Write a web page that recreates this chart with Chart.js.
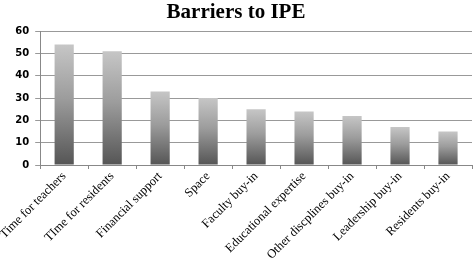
<!DOCTYPE html>
<html>
<head>
<meta charset="utf-8">
<script src="https://cdn.jsdelivr.net/npm/chart.js@4.4.0/dist/chart.umd.min.js"></script>
<style>
  html, body { margin: 0; padding: 0; background: #fff; }
  #wrap { width: 473px; height: 259px; }
</style>
</head>
<body>
<div id="wrap"><canvas id="chart"></canvas></div>
<script>
const categories = ['Time for teachers', 'TIme for residents', 'Financial support', 'Space',
  'Faculty buy-in', 'Educational expertise', 'Other discplines buy-in', 'Leadership buy-in', 'Residents buy-in'];
const values = [54, 51, 33, 30, 25, 24, 22, 17, 15];
const yTicks = [0, 10, 20, 30, 40, 50, 60];

// each bar fades from light grey at its top to dark grey at the axis
function barFill(ctx) {
  const chart = ctx.chart;
  const ys = chart.scales.y;
  if (!ys || !ctx.parsed) return '#999';
  const top = ys.getPixelForValue(ctx.parsed.y);
  const bottom = ys.getPixelForValue(0);
  if (!isFinite(top) || !isFinite(bottom)) return '#999';
  const g = chart.ctx.createLinearGradient(0, top, 0, bottom);
  g.addColorStop(0, '#c6c6c6');
  g.addColorStop(0.45, '#9c9c9c');
  g.addColorStop(1, '#555555');
  return g;
}

new Chart(document.getElementById('chart'), {
  type: 'bar',
  data: {
    labels: categories,
    datasets: [{
      data: values,
      backgroundColor: barFill,
      borderWidth: 0,
      categoryPercentage: 1,
      barPercentage: 0.4
    }]
  },
  options: {
    responsive: true,
    maintainAspectRatio: false,
    animation: false,
    layout: { padding: { left: 0, right: 1, top: 0, bottom: 0 } },
    plugins: {
      legend: { display: false },
      tooltip: { enabled: false },
      title: {
        display: true,
        text: 'Barriers to IPE',
        color: '#000',
        font: { family: 'Liberation Serif', size: 21, weight: 'bold' },
        padding: { top: 0, bottom: 6 }
      }
    },
    scales: {
      x: {
        grid: { display: true, offset: true, drawOnChartArea: false, tickLength: 4, color: '#888' },
        border: { color: '#888' },
        ticks: {
          minRotation: 45, maxRotation: 45, autoSkip: false,
          color: '#000', padding: 0,
          font: { family: 'Liberation Serif', size: 12.5 }
        },
        afterFit: s => { s.height = 94; }
      },
      y: {
        min: 0, max: 60,
        afterBuildTicks: s => { s.ticks = yTicks.map(v => ({ value: v })); },
        grid: { color: '#999', tickLength: 5 },
        border: { color: '#888' },
        ticks: {
          color: '#000', padding: 6,
          font: { family: 'DejaVu Sans', size: 10, weight: 'bold' }
        },
        afterFit: s => { s.width = 39; }
      }
    }
  }
});
</script>
</body>
</html>
